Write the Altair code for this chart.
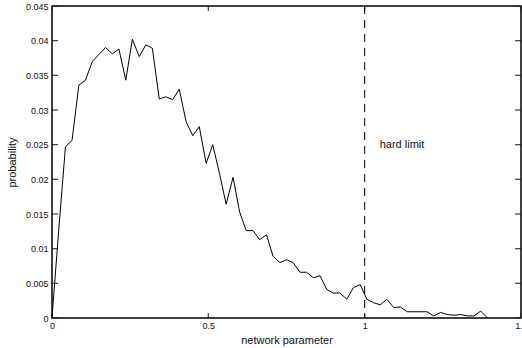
import altair as alt
import pandas as pd

# ---- data ----
x_vals = [0.000, 0.021, 0.043, 0.064, 0.086, 0.107, 0.129, 0.150, 0.171, 0.193,
          0.214, 0.236, 0.257, 0.279, 0.300, 0.321, 0.343, 0.364, 0.386, 0.407,
          0.429, 0.450, 0.471, 0.493, 0.514, 0.536, 0.557, 0.579, 0.600, 0.621,
          0.643, 0.664, 0.686, 0.707, 0.729, 0.750, 0.771, 0.793, 0.814, 0.836,
          0.857, 0.879, 0.900, 0.921, 0.943, 0.964, 0.986, 1.007, 1.029, 1.050,
          1.071, 1.093, 1.114, 1.136, 1.157, 1.179, 1.200, 1.221, 1.243, 1.264,
          1.286, 1.307, 1.329, 1.350, 1.371, 1.393]
prob = [0.0, 0.0124, 0.0247, 0.0256, 0.0336, 0.0343, 0.0370, 0.0380, 0.0390, 0.0381,
        0.0388, 0.0343, 0.0402, 0.0377, 0.0394, 0.0389, 0.0316, 0.0319, 0.0315, 0.0330,
        0.0283, 0.0263, 0.0276, 0.0223, 0.0250, 0.0208, 0.0164, 0.0203, 0.0153, 0.0126,
        0.0126, 0.0113, 0.0120, 0.0089, 0.0080, 0.0084, 0.0080, 0.0066, 0.0066, 0.0058,
        0.0061, 0.0041, 0.0036, 0.0036, 0.0027, 0.0044, 0.0048, 0.0027, 0.0022, 0.0019,
        0.0027, 0.0015, 0.0016, 0.0009, 0.0009, 0.0009, 0.0009, 0.0003, 0.0008, 0.0005,
        0.0004, 0.0005, 0.0003, 0.0003, 0.0010, 0.0]
limit_x = [1.0]
note_text = ["hard limit"]
note_x = [1.048]
note_y = [0.025]
x_ticks = [0, 0.5, 1, 1.5]
y_ticks = [0, 0.005, 0.01, 0.015, 0.02, 0.025, 0.03, 0.035, 0.04, 0.045]
x_min, x_max = 0, 1.5
y_min, y_max = 0, 0.045

W, H = 469, 312
FONT = "Liberation Sans"
TXT = "#111111"

df = pd.DataFrame({"x": x_vals, "p": prob})
df_limit = pd.DataFrame({"x": limit_x})
df_note = pd.DataFrame({"x": note_x, "y": note_y, "t": note_text})
df_xt = pd.DataFrame({"v": x_ticks, "lo": [y_min] * len(x_ticks), "hi": [y_max] * len(x_ticks)})
df_yt = pd.DataFrame({"v": y_ticks, "lo": [x_min] * len(y_ticks), "hi": [x_max] * len(y_ticks)})

xs = alt.Scale(domain=[x_min, x_max], nice=False, zero=False)
ys = alt.Scale(domain=[y_min, y_max], nice=False, zero=False)

x_main = alt.Axis(title="network parameter", values=x_ticks, format="~g", tickCount=4,
                  tickColor="black", tickSize=0, domain=False, grid=False, labelPadding=3,
                  labelOverlap=False, labelSeparation=0)
y_main = alt.Axis(title="probability", values=y_ticks, format="~g", tickCount=10,
                  tickColor="black", tickSize=0, domain=False, grid=False, labelPadding=4,
                  titlePadding=8, labelOverlap=False, labelSeparation=0)

line = alt.Chart(df).mark_line(color="black", strokeWidth=1).encode(
    x=alt.X("x:Q", scale=xs, axis=x_main),
    y=alt.Y("p:Q", scale=ys, axis=y_main),
)
rule = alt.Chart(df_limit).mark_rule(color="black", strokeWidth=1, strokeDash=[8, 6]).encode(
    x=alt.X("x:Q", scale=xs)
)
note = alt.Chart(df_note).mark_text(align="left", baseline="middle", font=FONT,
                                    fontSize=11, color=TXT).encode(
    x=alt.X("x:Q", scale=xs), y=alt.Y("y:Q", scale=ys), text="t:N"
)

# inward tick marks on all four edges (outer half clipped by the plot area)
def vtick(field):
    return alt.Chart(df_xt).mark_tick(orient="vertical", size=10, thickness=1.3,
                                      color="black", clip=True).encode(
        x=alt.X("v:Q", scale=xs), y=alt.Y(f"{field}:Q", scale=ys))


def htick(field):
    return alt.Chart(df_yt).mark_tick(orient="horizontal", size=12, thickness=1.3,
                                      color="black", clip=True).encode(
        y=alt.Y("v:Q", scale=ys), x=alt.X(f"{field}:Q", scale=xs))


chart = alt.layer(
    line, rule, note, vtick("lo"), vtick("hi"), htick("lo"), htick("hi")
).properties(
    width=W, height=H,
    autosize=alt.AutoSizeParams(type="none"),
    padding={"left": 52, "top": 6, "right": 1, "bottom": 30},
    background="white",
).configure_view(
    stroke="black", strokeWidth=1.5
).configure_axis(
    labelOverlap=False, labelFlush=False, labelFont=FONT, labelFontSize=9,
    labelColor=TXT, titleFont=FONT, titleFontSize=11, titleFontWeight="normal",
    titleColor=TXT, titlePadding=4
)

chart.save("out.html", embed_options={"renderer": "svg", "actions": False})
